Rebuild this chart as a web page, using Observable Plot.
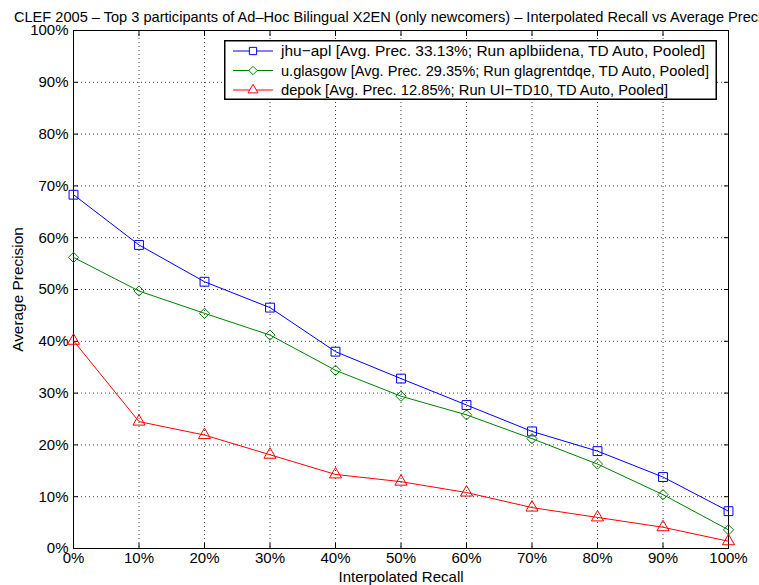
<!DOCTYPE html>
<html>
<head>
<meta charset="utf-8">
<script src="https://cdn.jsdelivr.net/npm/d3@7"></script>
<script src="https://cdn.jsdelivr.net/npm/@observablehq/plot@0.6"></script>
<style>
  html, body { margin: 0; padding: 0; background: #fff; }
  #wrap { position: relative; width: 759px; height: 585px; overflow: hidden; }
  #legend { position: absolute; left: 224px; top: 40px; }
  text { font-family: "Liberation Sans", Arial, sans-serif; }
</style>
</head>
<body>
<div id="wrap"></div>
<script>
const title = "CLEF 2005 \u2013 Top 3 participants of Ad\u2013Hoc Bilingual X2EN (only newcomers) \u2013 Interpolated Recall vs Average Precision";
const xLabel = "Interpolated Recall";
const yLabel = "Average Precision";
const recall = [0, 10, 20, 30, 40, 50, 60, 70, 80, 90, 100];
const tickValues = [0, 10, 20, 30, 40, 50, 60, 70, 80, 90, 100];
const seriesNames = [
  "jhu\u2212apl [Avg. Prec. 33.13%; Run aplbiidena, TD Auto, Pooled]",
  "u.glasgow [Avg. Prec. 29.35%; Run glagrentdqe, TD Auto, Pooled]",
  "depok [Avg. Prec. 12.85%; Run UI\u2212TD10, TD Auto, Pooled]"
];
const jhuApl  = [68.3, 58.6, 51.5, 46.5, 38.0, 32.8, 27.7, 22.6, 18.8, 13.8, 7.2];
const glasgow = [56.2, 49.7, 45.4, 41.2, 34.4, 29.4, 25.8, 21.2, 16.3, 10.4, 3.6];
const depok   = [40.1, 24.5, 21.9, 18.1, 14.3, 12.9, 10.8, 7.9, 6.0, 4.1, 1.4];
const colors = ["#0000ff", "#008000", "#ff0000"];
const symbols = ["square", "diamond2", "triangle"];
const radii = [5.0, 4.6, 4.5];
const legendTextLengths = [424, 428, 387];

const allSeries = [jhuApl, glasgow, depok];
const rows = allSeries.map((vals, i) => recall.map((r, j) => ({r, v: vals[j], s: i})));

const fmt = d => d + "%";
const font = "'Liberation Sans', Arial, sans-serif";

const marks = [
  Plot.gridX(tickValues, {stroke: "#000", strokeOpacity: 0.75, strokeDasharray: "1,3"}),
  Plot.gridY(tickValues, {stroke: "#000", strokeOpacity: 0.75, strokeDasharray: "1,3"}),
  Plot.axisX(tickValues, {anchor: "bottom", tickSize: 0, tickPadding: 4, tickFormat: fmt, label: null}),
  Plot.axisY(tickValues, {anchor: "left", tickSize: 0, tickPadding: 5, tickFormat: fmt, label: null}),
  Plot.axisX(tickValues, {anchor: "bottom", tickSize: -5, fill: "none", label: null}),
  Plot.axisX(tickValues, {anchor: "top", tickSize: -5, fill: "none", label: null}),
  Plot.axisY(tickValues, {anchor: "left", tickSize: -5, fill: "none", label: null}),
  Plot.axisY(tickValues, {anchor: "right", tickSize: -5, fill: "none", label: null}),
  Plot.frame({stroke: "#000", strokeWidth: 1}),
];
rows.forEach((data, i) => {
  marks.push(Plot.line(data, {x: "r", y: "v", stroke: colors[i], strokeWidth: 1}));
  marks.push(Plot.dot(data, {x: "r", y: "v", symbol: () => symbols[i], r: radii[i], stroke: colors[i], fill: "none", strokeWidth: 1}));
});
marks.push(Plot.text([title], {frameAnchor: "top", dy: -13, lineAnchor: "middle", text: d => d, fontSize: 14.6, fill: "#000"}));
marks.push(Plot.text([xLabel], {frameAnchor: "bottom", dy: 29, lineAnchor: "middle", text: d => d, fontSize: 15, fill: "#000"}));
marks.push(Plot.text([yLabel], {frameAnchor: "left", dx: -55, rotate: -90, lineAnchor: "middle", textAnchor: "middle", text: d => d, fontSize: 15.4, fill: "#000"}));

const chart = Plot.plot({
  width: 759,
  height: 585,
  marginLeft: 73,
  marginRight: 31,
  marginTop: 30,
  marginBottom: 37,
  x: {domain: [0, 100]},
  y: {domain: [0, 100]},
  symbol: {type: "identity"},
  style: {fontSize: "15px", fontFamily: font, color: "#000", background: "#fff", overflow: "hidden"},
  marks
});
const wrap = document.getElementById("wrap");
wrap.appendChild(chart);

// Legend
const lw = 493, lh = 60;
const leg = d3.select(wrap).append("svg").attr("id", "legend").attr("width", lw).attr("height", lh);
leg.append("rect").attr("x", 0.75).attr("y", 0.75).attr("width", lw - 1.5).attr("height", lh - 1.5)
  .attr("fill", "#fff").attr("stroke", "#000").attr("stroke-width", 1.5);
const d3sym = {square: d3.symbolSquare, diamond2: d3.symbolDiamond2, triangle: d3.symbolTriangle};
seriesNames.forEach((name, i) => {
  const y = 11 + i * 19.5;
  const r = radii[i] * 0.82;
  const g = leg.append("g");
  g.append("line").attr("x1", 9).attr("x2", 49).attr("y1", y).attr("y2", y).attr("stroke", colors[i]).attr("stroke-width", 1);
  g.append("path").attr("d", d3.symbol(d3sym[symbols[i]], Math.PI * r * r)())
    .attr("transform", `translate(29,${y})`).attr("fill", "#fff").attr("stroke", colors[i]).attr("stroke-width", 1);
  g.append("text").attr("x", 57).attr("y", y).attr("dy", "0.35em").attr("font-size", 15.3)
    .attr("textLength", legendTextLengths[i]).attr("lengthAdjust", "spacingAndGlyphs")
    .attr("font-family", font).attr("fill", "#000").text(name);
});
</script>
</body>
</html>
